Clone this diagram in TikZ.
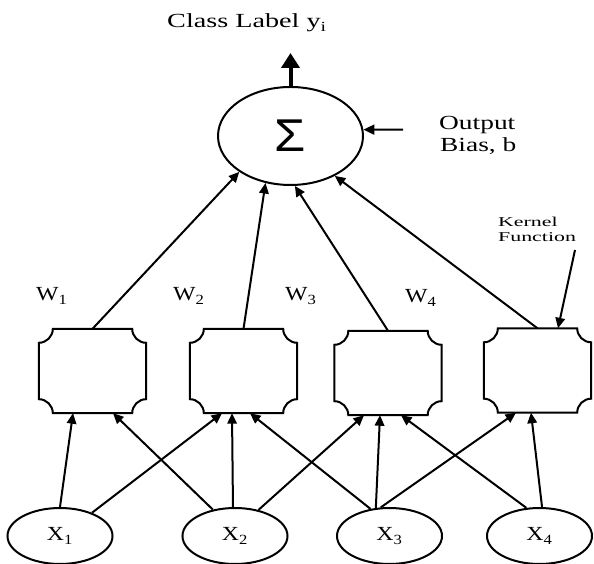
\documentclass[tikz,border=0pt]{standalone}
\usepackage{fontspec}
\usepackage{graphicx}
\setmainfont{Liberation Serif}
\newfontfamily\sigmafont{Liberation Sans}
\usetikzlibrary{arrows.meta,shapes.geometric}
\newcommand{\hstretch}[2]{\scalebox{#1}[1]{#2}}
\tikzset{
  lbl/.style={font=\fontsize{20}{22}\selectfont, inner sep=0pt},
  small/.style={font=\fontsize{13.5}{15}\selectfont, inner sep=0pt},
  arr/.style={-{Triangle[length=10.5pt,width=9.5pt]}, line width=2pt},
  kbox/.style={rectangle, minimum width=107pt, minimum height=84pt, inner sep=0pt},
  inp/.style={ellipse, draw, line width=2pt, minimum width=105pt, minimum height=56pt, inner sep=0pt, font=\fontsize{20}{22}\selectfont},
  sig/.style={ellipse, draw, line width=2pt, minimum width=145pt, minimum height=98pt, inner sep=0pt, font=\fontsize{46}{46}\sigmafont},
  kline/.style={line width=2pt, line join=miter},
}
\begin{document}
\begin{tikzpicture}[x=1pt,y=1pt]
\useasboundingbox (0,0) rectangle (594,564);
% output node
\node[sig] (sigma) at (290.5,428) {\hstretch{1.1}{Σ}};
\coordinate (ytip) at (290.5,511);
\coordinate (bias) at (403,434.3);
\coordinate (kstart) at (575,314);
% kernel boxes
\node[kbox] (b1) at (92.5,193) {};
\node[kbox] (b2) at (243.5,193) {};
\node[kbox] (b3) at (388,191) {};
\node[kbox] (b4) at (537.5,193.5) {};
\foreach \b in {b1,b2,b3,b4}{
  \draw[kline] ([xshift=14pt]\b.north west) -- ([xshift=-14pt]\b.north east)
    arc[start angle=180,end angle=270,radius=14pt]
    -- ([yshift=14pt]\b.south east)
    arc[start angle=90,end angle=180,radius=14pt]
    -- ([xshift=14pt]\b.south west)
    arc[start angle=0,end angle=90,radius=14pt]
    -- ([yshift=-14pt]\b.north west)
    arc[start angle=270,end angle=360,radius=14pt] -- cycle;
}
% inputs
\node[inp] (x1) at (60,28) {\hstretch{1.19}{X\textsubscript{1}}};
\node[inp] (x2) at (235,28) {\hstretch{1.19}{X\textsubscript{2}}};
\node[inp] (x3) at (389.5,28) {\hstretch{1.19}{X\textsubscript{3}}};
\node[inp] (x4) at (539.5,28) {\hstretch{1.19}{X\textsubscript{4}}};
% texts
\node[lbl, anchor=base west] (cls) at (167,536) {\hstretch{1.41}{Class Label y\textsubscript{i}}};
\node[lbl, anchor=base west] (out1) at (439,434) {\hstretch{1.37}{Output}};
\node[lbl, anchor=base west] (out2) at (440,412) {\hstretch{1.37}{Bias, b}};
\node[small, anchor=base west] (ker1) at (498,337) {\hstretch{1.62}{Kernel}};
\node[small, anchor=base west] (ker2) at (498,322) {\hstretch{1.62}{Function}};
\node[lbl, anchor=base west] (w1) at (36,263) {\hstretch{1.19}{W\textsubscript{1}}};
\node[lbl, anchor=base west] (w2) at (173,263) {\hstretch{1.19}{W\textsubscript{2}}};
\node[lbl, anchor=base west] (w3) at (285,263) {\hstretch{1.19}{W\textsubscript{3}}};
\node[lbl, anchor=base west] (w4) at (405,261) {\hstretch{1.19}{W\textsubscript{4}}};
% output arrow and bias
\draw[line width=4pt, -{Triangle[length=15pt,width=18pt]}] (sigma.north) -- (ytip);
\draw[line width=2pt, -{Triangle[length=11pt,width=10pt]}] (bias) -- (sigma.5);
\draw[arr] (kstart) -- ([xshift=20.5pt]b4.north);
% boxes to sigma
\draw[arr] (b1.north) -- (sigma.215);
\draw[arr] (b2.north) -- (sigma.242);
\draw[arr] (b3.north) -- (sigma.275);
\draw[arr] (b4.north) -- (sigma.318);
% inputs to boxes
\draw[arr] (x1.north) -- ([xshift=-19.5pt]b1.south);
\draw[arr] (x1.36) -- ([xshift=-21.5pt]b2.south);
\draw[arr] (x2.130) -- ([xshift=20.5pt]b1.south);
\draw[arr] (x2.94) -- ([xshift=-11.5pt]b2.south);
\draw[arr] (x2.48) -- ([xshift=-24pt]b3.south);
\draw[arr] (x3.125) -- ([xshift=6.5pt]b2.south);
\draw[arr] (x3.116) -- ([xshift=-8pt]b3.south);
\draw[arr] (x3.107) -- ([xshift=-21.5pt]b4.south);
\draw[arr] (x4.115) -- ([xshift=13pt]b3.south);
\draw[arr] (x4.85) -- ([xshift=-6.5pt]b4.south);
\end{tikzpicture}
\end{document}
